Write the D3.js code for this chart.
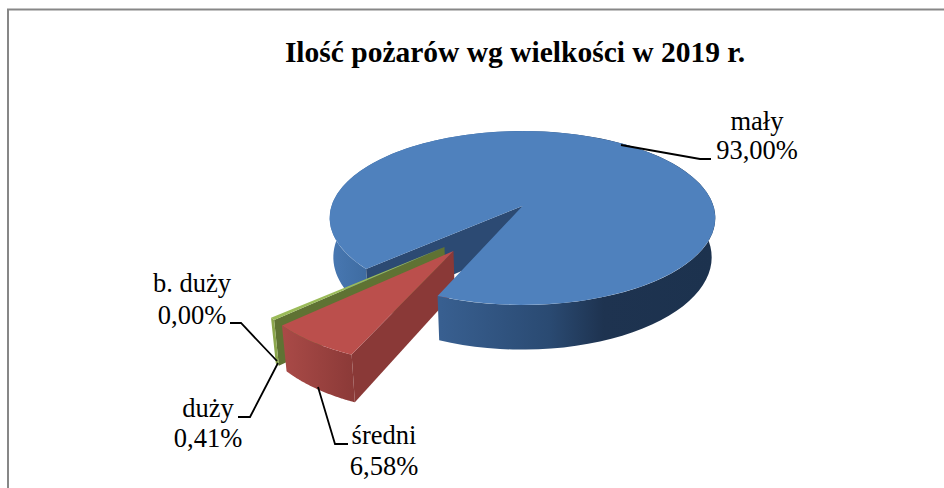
<!DOCTYPE html>
<html>
<head>
<meta charset="utf-8">
<script src="https://cdn.jsdelivr.net/npm/d3@7"></script>
<style>
  body { margin: 0; background: #fff; }
  text { font-family: "Liberation Serif", serif; fill: #000; }
</style>
</head>
<body>
<div id="chart"></div>
<script>
const categories = ["mały", "średni", "duży", "b. duży"];
const values = [93.00, 6.58, 0.41, 0.00];
const valueLabels = ["93,00%", "6,58%", "0,41%", "0,00%"];
const title = "Ilość pożarów wg wielkości w 2019 r.";

const width = 944, height = 488;
const rad = d => d * Math.PI / 180;

const svg = d3.select("#chart").append("svg")
    .attr("width", width)
    .attr("height", height)
    .style("display", "block");

// chart frame, only top and left are inside the picture
svg.append("path")
    .attr("d", `M8,${height} V9.5 H${width}`)
    .attr("fill", "none")
    .attr("stroke", "#878787")
    .attr("stroke-width", 2);

svg.append("text")
    .attr("x", 515)
    .attr("y", 62)
    .attr("text-anchor", "middle")
    .attr("font-weight", "bold")
    .attr("font-size", 29.5)
    .text(title);

// perspective of the pie: u goes right, v goes towards the viewer
const cx = 522.5, cy = 206, k = 0.138, sx = 191, sy = 85.3, wall = 38.5;

function project(u, v, bottom) {
  const d = 1 - k * v;
  let x = cx + sx * u / d, y = cy + sy * v / d;
  if (bottom) {
    x += (cx - x) * 0.019;
    y += wall / d;
  }
  return [x, y];
}

const pie = d3.pie().sort(null)
    .startAngle(rad(228))
    .endAngle(rad(228 + 360));
const arcs = pie(values);

// pull out and radius of each slice
const slices = [
  {arc: arcs[0], u0: 0, v0: 0, r: 1},
  {arc: arcs[1], u0: -0.337, v0: 0.492, r: 0.99},
  {arc: arcs[2], u0: -0.383, v0: 0.451, r: 0.985}
];
const [big, red, green] = slices;

const line = d3.line();

function rim(s, a, bottom) {
  return project(s.u0 + s.r * Math.sin(a), s.v0 - s.r * Math.cos(a), bottom);
}
function rimPoints(s, a0, a1, bottom) {
  return d3.range(0, 61).map(i => rim(s, a0 + (a1 - a0) * i / 60, bottom));
}
function topFace(s) {
  const pts = rimPoints(s, s.arc.startAngle, s.arc.endAngle, false);
  return line([project(s.u0, s.v0, false), ...pts]) + "Z";
}
function outerWall(s, a0, a1) {
  const pts = rimPoints(s, a0, a1, false).concat(rimPoints(s, a0, a1, true).reverse());
  return line(pts) + "Z";
}
function cutWall(s, a) {
  return line([
    project(s.u0, s.v0, false), rim(s, a, false),
    rim(s, a, true), project(s.u0, s.v0, true)
  ]) + "Z";
}

const defs = svg.append("defs");
function gradient(id, x1, x2, stops) {
  const g = defs.append("linearGradient")
      .attr("id", id)
      .attr("gradientUnits", "userSpaceOnUse")
      .attr("x1", x1).attr("x2", x2)
      .attr("y1", 0).attr("y2", 0);
  stops.forEach(s => g.append("stop").attr("offset", s[0]).attr("stop-color", s[1]));
}
gradient("blueLeft", 331, 372, [[0, "#4878b2"], [1, "#3d6a9f"]]);
gradient("blueNear", 441, 712, [[0, "#385f90"], [0.4, "#2a4a72"], [0.6, "#1e3350"], [1, "#1c324e"]]);
gradient("redNear", 283, 357, [[0, "#a94a47"], [1, "#8a3937"]]);

const g = svg.append("g");
const face = (d, fill) => g.append("path").attr("d", d).attr("fill", fill);

// painted back to front
face(outerWall(big, big.arc.startAngle, rad(360)), "url(#blueLeft)");
face(cutWall(big, big.arc.startAngle), "#2c4a73");

face(cutWall(green, green.arc.startAngle), "#5f7233");
face(outerWall(green, green.arc.startAngle, green.arc.endAngle), "#8ba64c");
face(topFace(green), "#9bbb59");

face(outerWall(red, red.arc.startAngle, red.arc.endAngle), "url(#redNear)");
face(cutWall(red, red.arc.startAngle), "#8a3937");
face(topFace(red), "#bb4f4c");

face(outerWall(big, rad(360), big.arc.endAngle), "url(#blueNear)");
face(topFace(big), "#4f81bd");

// leader lines
const leaders = [
  [[621, 145], [700, 159], [711, 159]],
  [[318, 387], [335, 444], [348, 444]],
  [[278, 363], [250, 417], [238, 417]],
  [[277, 361], [241, 323], [230, 323]]
];
svg.append("g").selectAll("path")
    .data(leaders)
    .join("path")
      .attr("d", d => line(d))
      .attr("fill", "none")
      .attr("stroke", "#000")
      .attr("stroke-width", 1.8);

// data labels: name on the first line, percent on the second
const labelPos = [[757, 130, 159], [384, 444, 475], [208, 417, 447], [192, 292, 324]];
const labels = svg.append("g").attr("text-anchor", "middle").attr("font-size", 26.5);
categories.forEach((c, i) => {
  labels.append("text").attr("x", labelPos[i][0]).attr("y", labelPos[i][1]).text(c);
  labels.append("text").attr("x", labelPos[i][0]).attr("y", labelPos[i][2]).text(valueLabels[i]);
});
</script>
</body>
</html>
